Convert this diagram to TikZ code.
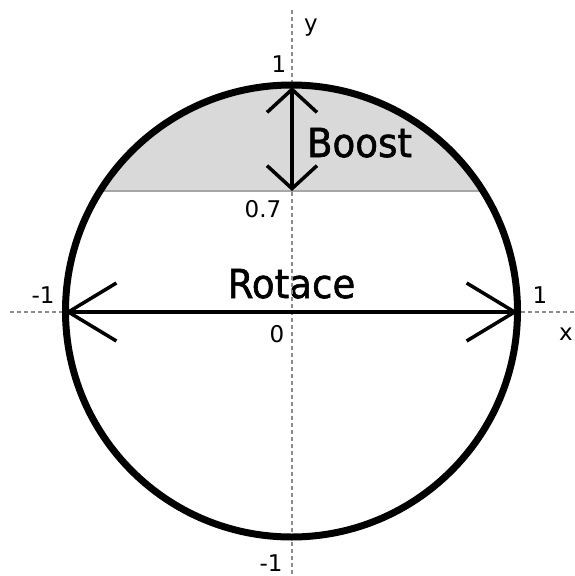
\documentclass[tikz,border=0pt]{standalone}
\usepackage{fontspec}
\setmainfont{DejaVu Sans}
\newfontfamily\bigfont[FakeBold=1.5]{DejaVu Sans}
\usetikzlibrary{arrows.meta}
\newcommand\sqz[1]{\scalebox{0.93}[1]{#1}}
\begin{document}
\begin{tikzpicture}[x=1pt,y=-1pt,
  axis/.style={black!45, line width=1.3pt, dash pattern=on 4pt off 3pt},
  rim/.style={line width=7pt},
  arr/.style={line width=3.5pt},
  lab/.style={font=\fontsize{23}{23}\selectfont, inner sep=0pt, anchor=base},
  big/.style={font=\bigfont\fontsize{40}{40}\selectfont, inner sep=0pt, anchor=base},
  hboth/.style={{Straight Barb[length=48pt,width=58pt]}-{Straight Barb[length=48pt,width=58pt]}},
  vboth/.style={{Straight Barb[length=23pt,width=50pt]}-{Straight Barb[length=23pt,width=50pt]}}]
\useasboundingbox (0,0) rectangle (574,576);
\coordinate (O) at (291.5,311);
\coordinate (L) at (65,312);
\coordinate (R) at (518,312);
\coordinate (T) at (292,87);
\coordinate (B) at (292,191);
\coordinate (ChL) at (100,191);
\coordinate (ChR) at (483,191);
\coordinate (XA) at (10,312);
\coordinate (XB) at (574,312);
\coordinate (YA) at (292,10);
\coordinate (YB) at (292,576);
% shaded cap
\begin{scope}
\clip (0,0) rectangle (574,191);
\fill[black!15] (O) circle[radius=226pt];
\end{scope}
\draw[black!35, line width=1.5pt] (ChL) -- (ChR);
% texts
\node[big] (rot) at (291.5,298) {\sqz{Rotace}};
\node[big] (boo) at (359.5,157) {\sqz{Boost}};
\node[lab] (t1) at (279,72) {1};
\node[lab] (t07) at (263,217) {0.7};
\node[lab] (t0) at (277,342) {0};
\node[lab] (tl) at (43,303) {-1};
\node[lab] (tr) at (540,303) {1};
\node[lab] (tb) at (271,571) {-1};
\node[lab] (tx) at (566,340) {x};
\node[lab] (ty) at (311,31) {y};
% axes
\draw[axis] (XA) -- (XB);
\draw[axis] (YA) -- (YB);
% circle
\draw[rim] (O) circle[radius=226pt];
% arrows
\draw[arr, hboth] (L) -- (R);
\draw[arr, vboth] (T) -- (B);
\end{tikzpicture}
\end{document}
